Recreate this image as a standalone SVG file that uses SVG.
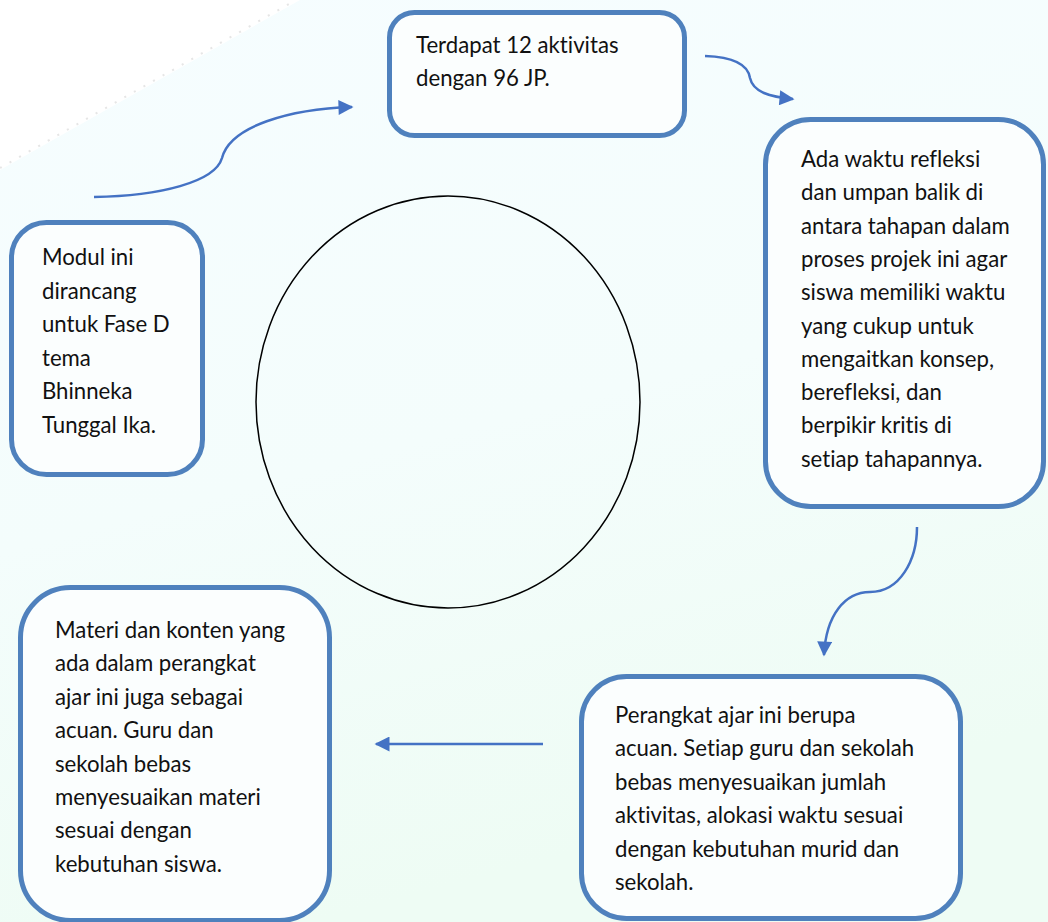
<svg xmlns="http://www.w3.org/2000/svg" width="1048" height="922" viewBox="0 0 1048 922">
<defs>
<linearGradient id="bg" x1="0" y1="0" x2="0.3" y2="1">
<stop offset="0" stop-color="#f6fdff"/>
<stop offset="0.55" stop-color="#f4fdfc"/>
<stop offset="1" stop-color="#eefcf4"/>
</linearGradient>
<marker id="arr" viewBox="0 0 10 10" refX="9" refY="5" markerWidth="16" markerHeight="15" markerUnits="userSpaceOnUse" orient="auto">
<path d="M0,0 L10,5 L0,10 Z" fill="#4472c4"/>
</marker>
<style>
.box{fill:#fbfefe;stroke:#4f81bd;stroke-width:5}
.t{font-family:Lato,"Open Sans","Liberation Sans",sans-serif;font-size:22.2px;fill:#111;font-variant-ligatures:none;font-feature-settings:"liga" 0}
.c{fill:none;stroke:#4472c4;stroke-width:2.5;marker-end:url(#arr)}
</style>
</defs>
<rect width="1048" height="922" fill="url(#bg)"/>
<polygon points="0,0 300,0 0,170" fill="#ffffff"/>
<line x1="0" y1="168" x2="296" y2="0" stroke="#d6d6d6" stroke-width="2" stroke-dasharray="2 9" opacity="0.6"/>

<ellipse id="circle" cx="448" cy="402" rx="192" ry="206" fill="none" stroke="#000" stroke-width="1.5"/>

<g id="connectors">
<path class="c" d="M94,197 C160,196 215,182 222,158 C230,126 290,109 352,107"/>
<path class="c" d="M705,56 C735,57 748,65 750,78 C753,92 770,97 793,99"/>
<path class="c" d="M917,527 C917,560 900,592 870,592 C845,592 826,615 824,655"/>
<path class="c" d="M543,744 L376,744"/>
</g>

<g id="node-top">
<rect class="box" x="389.5" y="12.5" width="295" height="123" rx="25"/>
<text class="t"><tspan x="416" y="53">Terdapat 12 aktivitas</tspan><tspan x="416" y="86">dengan 96 JP.</tspan></text>
</g>

<g id="node-right">
<rect class="box" x="765.5" y="119.5" width="278" height="387" rx="45"/>
<text class="t">
<tspan x="801" y="167">Ada waktu refleksi</tspan>
<tspan x="801" y="200.3">dan umpan balik di</tspan>
<tspan x="801" y="233.6">antara tahapan dalam</tspan>
<tspan x="801" y="266.9">proses projek ini agar</tspan>
<tspan x="801" y="300.2">siswa memiliki waktu</tspan>
<tspan x="801" y="333.5">yang cukup untuk</tspan>
<tspan x="801" y="366.8">mengaitkan konsep,</tspan>
<tspan x="801" y="400.1">berefleksi, dan</tspan>
<tspan x="801" y="433.4">berpikir kritis di</tspan>
<tspan x="801" y="466.7">setiap tahapannya.</tspan>
</text>
</g>

<g id="node-left">
<rect class="box" x="11.5" y="222.5" width="191" height="252" rx="35"/>
<text class="t">
<tspan x="42" y="265">Modul ini</tspan>
<tspan x="42" y="298.6">dirancang</tspan>
<tspan x="42" y="332.2">untuk Fase D</tspan>
<tspan x="42" y="365.8">tema</tspan>
<tspan x="42" y="399.4">Bhinneka</tspan>
<tspan x="42" y="433">Tunggal Ika.</tspan>
</text>
</g>

<g id="node-bottom-right">
<rect class="box" x="581.5" y="676.5" width="379" height="242" rx="45"/>
<text class="t">
<tspan x="615" y="723">Perangkat ajar ini berupa</tspan>
<tspan x="615" y="756.4">acuan. Setiap guru dan sekolah</tspan>
<tspan x="615" y="789.8">bebas menyesuaikan jumlah</tspan>
<tspan x="615" y="823.2">aktivitas, alokasi waktu sesuai</tspan>
<tspan x="615" y="856.6">dengan kebutuhan murid dan</tspan>
<tspan x="615" y="890">sekolah.</tspan>
</text>
</g>

<g id="node-bottom-left">
<rect class="box" x="20.5" y="587.5" width="309" height="333" rx="50"/>
<text class="t">
<tspan x="55" y="638">Materi dan konten yang</tspan>
<tspan x="55" y="671.4">ada dalam perangkat</tspan>
<tspan x="55" y="704.8">ajar ini juga sebagai</tspan>
<tspan x="55" y="738.2">acuan. Guru dan</tspan>
<tspan x="55" y="771.6">sekolah bebas</tspan>
<tspan x="55" y="805">menyesuaikan materi</tspan>
<tspan x="55" y="838.4">sesuai dengan</tspan>
<tspan x="55" y="871.8">kebutuhan siswa.</tspan>
</text>
</g>
</svg>
